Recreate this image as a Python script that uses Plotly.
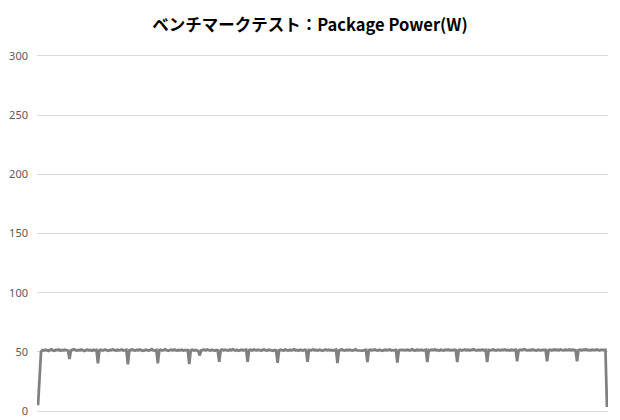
import plotly.graph_objects as go

# Package power samples (W), one value per sample step
package_power_w = [
    5.0, 24.0, 50.2, 51.6, 51.2, 51.9, 51.4, 50.9, 51.7, 52.2, 51.3, 51.0, 51.8, 51.5, 52.0, 51.1, 51.6, 51.3, 51.9, 51.4,
    51.2, 44.0, 51.3, 51.8, 52.3, 51.6, 51.1, 51.7, 51.4, 52.0, 51.2, 50.8, 51.5, 51.9, 51.3, 51.6, 51.0, 51.8, 51.4, 51.7,
    40.3, 51.4, 51.9, 51.2, 51.6, 52.1, 51.3, 50.9, 51.7, 51.5, 52.2, 51.4, 51.0, 51.8, 51.3, 51.6, 52.0, 51.2, 51.5, 51.8,
    39.5, 51.3, 51.7, 52.0, 51.5, 51.1, 51.8, 51.4, 52.1, 51.6, 51.0, 51.3, 51.9, 51.5, 51.2, 51.7, 52.3, 51.4, 51.1, 51.6,
    40.3, 51.5, 51.9, 51.2, 51.7, 52.2, 51.4, 51.0, 51.6, 51.8, 51.3, 52.0, 51.5, 51.1, 51.7, 51.4, 51.9, 51.2, 51.6, 51.3,
    51.5, 39.7, 51.4, 51.8, 51.2, 51.6, 51.0, 50.8, 47.0, 51.3, 51.7, 51.9, 51.4, 52.1, 51.6, 51.2, 51.8, 51.5, 51.0, 51.7,
    51.4, 41.6, 51.6, 52.0, 51.3, 51.8, 51.5, 51.1, 51.9, 51.4, 52.2, 51.6, 51.2, 51.7, 51.0, 51.5, 51.8, 51.3, 51.6, 51.9,
    41.6, 51.5, 51.8, 51.2, 52.0, 51.6, 51.3, 51.9, 51.4, 51.1, 51.7, 52.1, 51.5, 51.2, 51.8, 51.4, 51.6, 51.0, 51.7, 51.3,
    40.8, 51.4, 51.9, 51.6, 51.2, 52.0, 51.5, 51.1, 51.8, 51.3, 51.7, 52.2, 51.4, 51.6, 51.0, 51.8, 51.5, 51.2, 51.9, 51.6,
    41.6, 51.6, 51.3, 51.8, 52.1, 51.4, 51.7, 51.2, 51.9, 51.5, 51.0, 51.6, 52.0, 51.3, 51.8, 51.4, 51.7, 51.1, 51.5, 51.9,
    40.5, 51.3, 51.7, 52.0, 51.5, 51.2, 51.8, 51.4, 51.9, 51.6, 51.1, 51.7, 52.2, 51.4, 51.3, 51.8, 51.5, 51.0, 51.6, 51.8,
    41.5, 51.5, 51.9, 51.3, 51.7, 52.1, 51.4, 51.2, 51.8, 51.6, 51.0, 51.5, 51.9, 51.3, 51.7, 52.0, 51.4, 51.6, 51.2, 51.7,
    41.0, 51.4, 51.8, 51.6, 52.0, 51.3, 51.5, 51.9, 51.2, 51.7, 52.2, 51.5, 51.1, 51.8, 51.4, 51.6, 51.9, 51.3, 51.5, 51.8,
    41.5, 51.6, 51.3, 51.9, 51.5, 52.1, 51.4, 51.7, 51.0, 51.8, 51.5, 51.2, 51.9, 51.6, 52.0, 51.3, 51.7, 51.4, 51.8, 51.5,
    41.5, 51.5, 51.8, 51.2, 51.6, 52.0, 51.4, 51.9, 51.3, 51.7, 51.5, 52.2, 51.6, 51.1, 51.8, 51.4, 51.7, 51.9, 51.3, 51.6,
    41.5, 51.7, 51.4, 51.9, 52.1, 51.5, 51.2, 51.8, 51.6, 51.3, 51.9, 51.5, 52.0, 51.4, 51.7, 51.2, 51.8, 51.5, 51.6, 51.9,
    42.0, 51.4, 51.8, 51.5, 51.9, 52.2, 51.6, 51.3, 51.7, 51.4, 52.0, 51.8, 51.5, 51.2, 51.9, 51.6, 51.4, 51.8, 51.5, 51.7,
    42.0, 51.6, 51.9, 51.3, 51.7, 52.0, 51.5, 51.8, 51.4, 52.1, 51.6, 51.3, 51.9, 51.7, 51.5, 52.0, 51.4, 51.8, 51.6, 51.5,
    42.0, 51.5, 51.8, 51.4, 51.9, 51.7, 52.2, 51.5, 51.6, 51.3, 51.9, 51.8, 51.5, 52.1, 51.7, 51.4, 51.8, 51.6, 51.9, 51.7,
    3.5,
]
sample_index = list(range(len(package_power_w)))

y_ticks = [0, 50, 100, 150, 200, 250, 300]
title_text = "ベンチマークテスト：Package Power(W)"

fig = go.Figure()
fig.add_trace(go.Scatter(
    x=sample_index, y=package_power_w,
    mode="lines",
    line=dict(color="#808080", width=2.75),
    hoverinfo="y",
))

fig.update_layout(
    width=620, height=420, autosize=False,
    margin=dict(l=37, r=12, t=54, b=7),
    paper_bgcolor="white", plot_bgcolor="white",
    showlegend=False,
    title=dict(
        text=title_text,
        x=0.5, xanchor="center", y=0.94, yanchor="middle",
        font=dict(family="Noto Sans CJK JP", size=16.5, color="#000000", weight="bold"),
    ),
)
fig.update_xaxes(
    range=[-0.7, 380.7], automargin=False,
    showgrid=False, zeroline=False, showline=False,
    showticklabels=False, ticks="",
)
fig.update_yaxes(
    range=[-1.6, 301.6], automargin=False,
    tickvals=y_ticks,
    showgrid=True, gridcolor="#d9d9d9", gridwidth=1,
    zeroline=False, showline=False, ticks="",
    ticklabelstandoff=8,
    tickfont=dict(family="Noto Sans", size=11, color="#595959"),
)

# page body has a default 8px margin; drop it so the chart sits at the window origin
fig.write_html("out.html", config={"displayModeBar": False},
               post_script="document.body.style.margin='0';")
